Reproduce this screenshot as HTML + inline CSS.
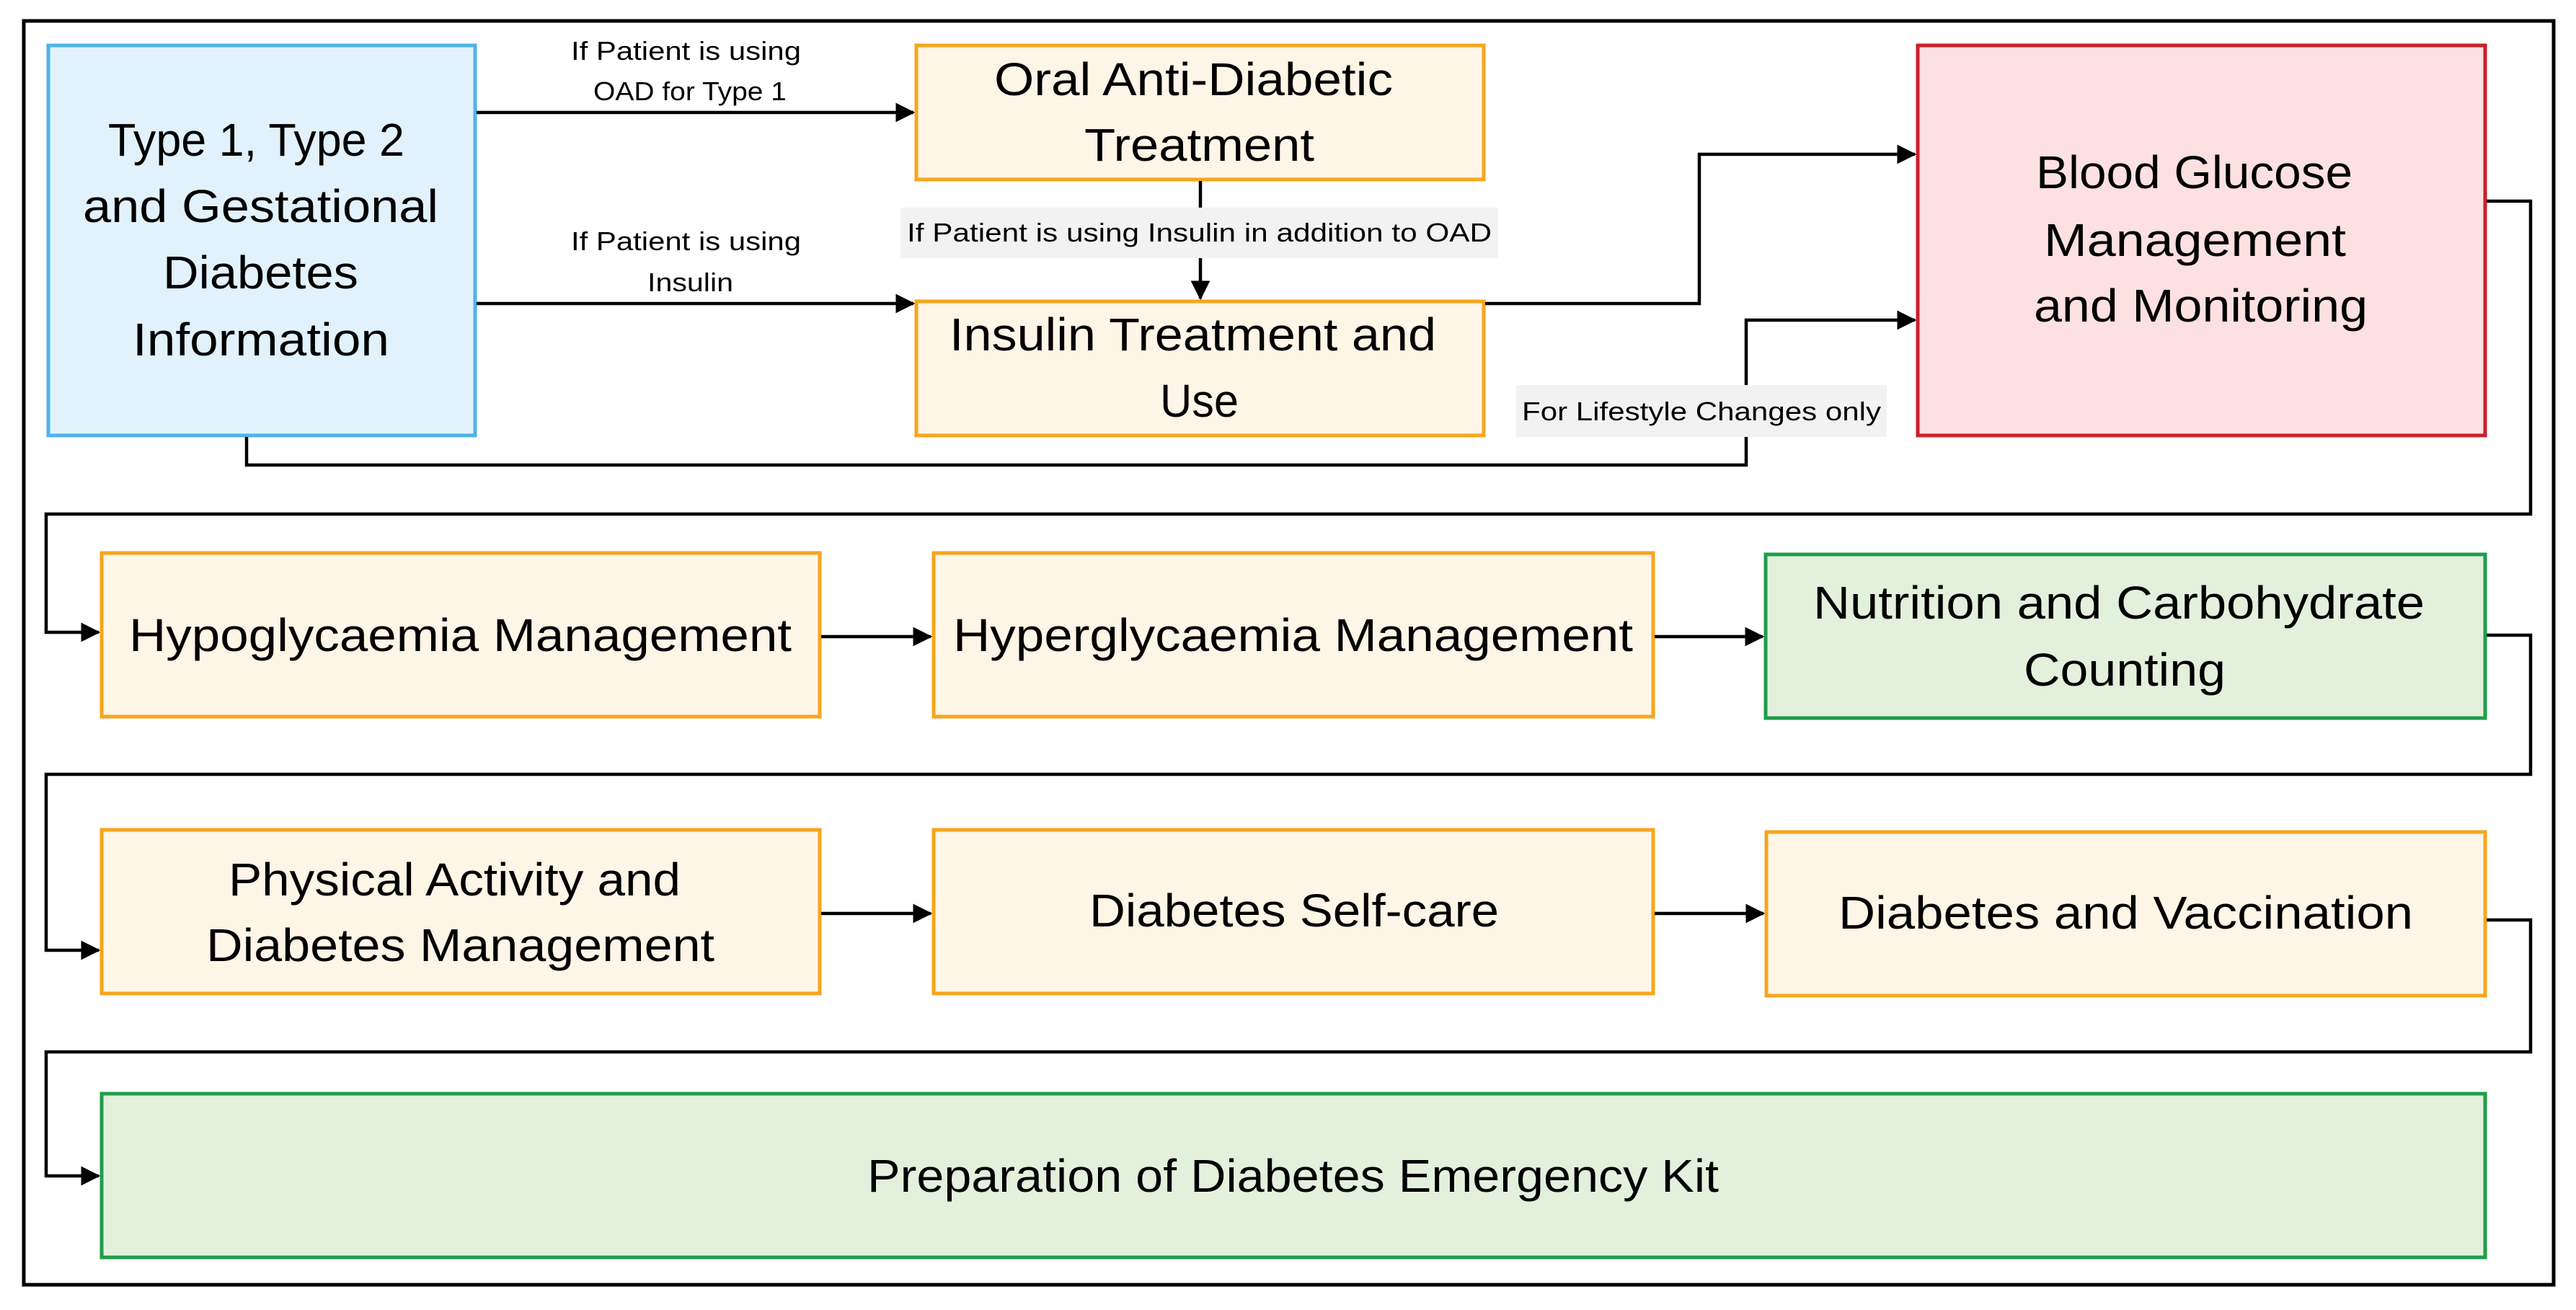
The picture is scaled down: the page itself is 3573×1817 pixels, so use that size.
<!DOCTYPE html>
<html><head><meta charset="utf-8"><style>
html,body{margin:0;padding:0;background:#fff;}
svg{display:block;}
text{font-family:"Liberation Sans",sans-serif;fill:#000;}
.b{font-size:64px;}
.s{font-size:36px;}
</style></head><body>
<svg width="3573" height="1817" viewBox="0 0 3573 1817" xmlns="http://www.w3.org/2000/svg">
<defs>
<marker id="a" markerWidth="6" markerHeight="6" refX="5.5" refY="3" orient="auto" markerUnits="strokeWidth">
<path d="M0,0 L6,3 L0,6 z" fill="#000"/>
</marker>
</defs>
<rect x="0" y="0" width="3573" height="1817" fill="#fff"/>
<!-- outer frame -->
<rect x="33" y="29" width="3509" height="1753" fill="none" stroke="#000" stroke-width="5"/>

<!-- boxes -->
<rect x="67" y="63" width="592" height="541" fill="#e1f2fc" stroke="#4fb3e8" stroke-width="5"/>
<rect x="1271" y="63" width="787" height="186" fill="#fdf5e6" stroke="#f7a51e" stroke-width="5"/>
<rect x="1271" y="418" width="787" height="186" fill="#fdf5e6" stroke="#f7a51e" stroke-width="5"/>
<rect x="2660" y="63" width="787" height="541" fill="#fce0e2" stroke="#c9202a" stroke-width="5"/>

<rect x="141" y="767" width="996" height="227" fill="#fdf5e6" stroke="#f7a51e" stroke-width="5"/>
<rect x="1295" y="767" width="998" height="227" fill="#fdf5e6" stroke="#f7a51e" stroke-width="5"/>
<rect x="2449" y="769" width="998" height="227" fill="#e3f0dc" stroke="#1e9e4a" stroke-width="5"/>

<rect x="141" y="1151" width="996" height="227" fill="#fdf5e6" stroke="#f7a51e" stroke-width="5"/>
<rect x="1295" y="1151" width="998" height="227" fill="#fdf5e6" stroke="#f7a51e" stroke-width="5"/>
<rect x="2450" y="1154" width="997" height="227" fill="#fdf5e6" stroke="#f7a51e" stroke-width="5"/>

<rect x="141" y="1517" width="3306" height="227" fill="#e3f0dc" stroke="#1e9e4a" stroke-width="5"/>

<!-- connectors -->
<g fill="none" stroke="#000" stroke-width="4.5">
<line x1="661" y1="156" x2="1267" y2="156" marker-end="url(#a)"/>
<line x1="661" y1="421" x2="1267" y2="421" marker-end="url(#a)"/>
<line x1="1665" y1="251" x2="1665" y2="288"/>
<line x1="1665" y1="358" x2="1665" y2="414" marker-end="url(#a)"/>
<polyline points="2060,421 2357,421 2357,214 2656,214" marker-end="url(#a)"/>
<polyline points="342,606 342,645 2422,645 2422,606"/>
<polyline points="2422,534 2422,444 2656,444" marker-end="url(#a)"/>
<polyline points="3449,279 3510,279 3510,713 64,713 64,877 137,877" marker-end="url(#a)"/>
<line x1="1139" y1="883" x2="1291" y2="883" marker-end="url(#a)"/>
<line x1="2295" y1="883" x2="2445" y2="883" marker-end="url(#a)"/>
<polyline points="3449,881 3510,881 3510,1074 64,1074 64,1318 137,1318" marker-end="url(#a)"/>
<line x1="1139" y1="1267" x2="1291" y2="1267" marker-end="url(#a)"/>
<line x1="2295" y1="1267" x2="2446" y2="1267" marker-end="url(#a)"/>
<polyline points="3449,1276 3510,1276 3510,1459 64,1459 64,1631 137,1631" marker-end="url(#a)"/>
</g>

<!-- label backgrounds -->
<rect x="1249" y="288" width="829" height="70" fill="#f2f2f2"/>
<rect x="2103" y="534" width="514" height="72" fill="#f2f2f2"/>

<!-- box text -->
<text class="b" x="150" y="216" textLength="411" lengthAdjust="spacingAndGlyphs">Type 1, Type 2</text>
<text class="b" x="115" y="308" textLength="493" lengthAdjust="spacingAndGlyphs">and Gestational</text>
<text class="b" x="226" y="400" textLength="271" lengthAdjust="spacingAndGlyphs">Diabetes</text>
<text class="b" x="184" y="493" textLength="356" lengthAdjust="spacingAndGlyphs">Information</text>

<text class="b" x="1379" y="132" textLength="553" lengthAdjust="spacingAndGlyphs">Oral Anti-Diabetic</text>
<text class="b" x="1504" y="223" textLength="319" lengthAdjust="spacingAndGlyphs">Treatment</text>

<text class="b" x="1317" y="486" textLength="675" lengthAdjust="spacingAndGlyphs">Insulin Treatment and</text>
<text class="b" x="1609" y="578" textLength="109" lengthAdjust="spacingAndGlyphs">Use</text>

<text class="b" x="2824" y="261" textLength="439" lengthAdjust="spacingAndGlyphs">Blood Glucose</text>
<text class="b" x="2835" y="355" textLength="419" lengthAdjust="spacingAndGlyphs">Management</text>
<text class="b" x="2821" y="446" textLength="463" lengthAdjust="spacingAndGlyphs">and Monitoring</text>

<text class="b" x="179" y="903" textLength="919" lengthAdjust="spacingAndGlyphs">Hypoglycaemia Management</text>
<text class="b" x="1322" y="903" textLength="943" lengthAdjust="spacingAndGlyphs">Hyperglycaemia Management</text>
<text class="b" x="2515" y="858" textLength="848" lengthAdjust="spacingAndGlyphs">Nutrition and Carbohydrate</text>
<text class="b" x="2807" y="951" textLength="280" lengthAdjust="spacingAndGlyphs">Counting</text>

<text class="b" x="317" y="1242" textLength="627" lengthAdjust="spacingAndGlyphs">Physical Activity and</text>
<text class="b" x="286" y="1333" textLength="705" lengthAdjust="spacingAndGlyphs">Diabetes Management</text>
<text class="b" x="1511" y="1285" textLength="568" lengthAdjust="spacingAndGlyphs">Diabetes Self-care</text>
<text class="b" x="2550" y="1288" textLength="797" lengthAdjust="spacingAndGlyphs">Diabetes and Vaccination</text>

<text class="b" x="1203" y="1653" textLength="1181" lengthAdjust="spacingAndGlyphs">Preparation of Diabetes Emergency Kit</text>

<!-- labels -->
<text class="s" x="792" y="83" textLength="319" lengthAdjust="spacingAndGlyphs">If Patient is using</text>
<text class="s" x="823" y="139" textLength="268" lengthAdjust="spacingAndGlyphs">OAD for Type 1</text>
<text class="s" x="792" y="347" textLength="319" lengthAdjust="spacingAndGlyphs">If Patient is using</text>
<text class="s" x="898" y="404" textLength="119" lengthAdjust="spacingAndGlyphs">Insulin</text>
<text class="s" x="1258" y="335" textLength="811" lengthAdjust="spacingAndGlyphs">If Patient is using Insulin in addition to OAD</text>
<text class="s" x="2111" y="583" textLength="498" lengthAdjust="spacingAndGlyphs">For Lifestyle Changes only</text>
</svg>
</body></html>
